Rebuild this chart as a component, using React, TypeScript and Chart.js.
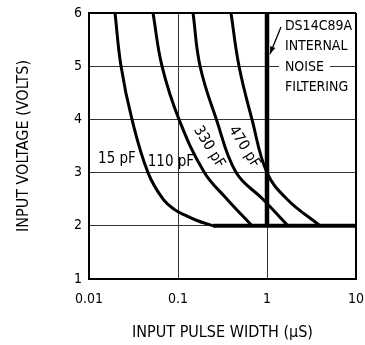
import React, { useEffect, useRef } from 'react';
import { Chart, registerables } from 'chart.js';

Chart.register(...registerables);

const FONT = '"Liberation Sans Narrow", "DejaVu Sans Condensed", "Liberation Sans", sans-serif';

const xTickValues = [0.01, 0.1, 1, 10];
const xTickLabels = ['0.01', '0.1', '1', '10'];
const yMin = 1;
const yMax = 6;

// Input pulse width (µs) vs input voltage (V) for each capacitance
const pf15X = [0.0196, 0.0229, 0.0304, 0.046, 0.068, 0.0925, 0.12, 0.163, 0.247];
const pf15Y = [6, 5, 4, 3, 2.5, 2.3, 2.2, 2.1, 2.0];
const pf110X = [0.0524, 0.0661, 0.1026, 0.198, 0.356, 0.678];
const pf110Y = [6, 5, 4, 3, 2.5, 2.0];
const pf330X = [0.1476, 0.177, 0.27, 0.45, 0.9, 1.72];
const pf330Y = [6, 5, 4, 3, 2.5, 2.0];
const pf470X = [0.394, 0.485, 0.678, 1.0, 1.68, 3.94];
const pf470Y = [6, 5, 4, 3, 2.5, 2.0];

// DS14C89A internal noise filtering boundary
const filterX = [1, 1];
const filterY = [6, 2];
const floorX = [0.247, 10];
const floorY = [2, 2];

const curveLabels = ['15 pF', '110 pF', '330 pF', '470 pF'];
const noteLines = ['DS14C89A', 'INTERNAL', 'NOISE', 'FILTERING'];

const toPts = (xs: number[], ys: number[]) => xs.map((x, i) => ({ x, y: ys[i] }));

const annotPlugin = {
  id: 'annot',
  afterDatasetsDraw(chart: any) {
    const { ctx, scales, chartArea } = chart;
    const sx = scales.x;
    const sy = scales.y;
    ctx.save();
    ctx.fillStyle = '#000';
    ctx.strokeStyle = '#000';
    ctx.font = `15px ${FONT}`;
    ctx.textAlign = 'center';
    ctx.textBaseline = 'middle';
    const anchors = [
      { x: 0.0206, y: 3.26, rot: 0 },
      { x: 0.0833, y: 3.2, rot: 0 },
      { x: 0.223, y: 3.48, rot: 58 },
      { x: 0.552, y: 3.48, rot: 58 },
    ];
    curveLabels.forEach((t, i) => {
      const a = anchors[i];
      ctx.save();
      ctx.translate(sx.getPixelForValue(a.x), sy.getPixelForValue(a.y));
      ctx.rotate((a.rot * Math.PI) / 180);
      ctx.fillText(t, 0, 0);
      ctx.restore();
    });

    // note text
    const nx = sx.getPixelForValue(1.59);
    const ny = sy.getPixelForValue(5.756);
    ctx.font = `14px ${FONT}`;
    ctx.textAlign = 'left';
    noteLines.forEach((t, i) => {
      const yy = ny + i * 20.5;
      const w = ctx.measureText(t).width;
      const rx = nx - 6;
      const rw = Math.min(w + 12, chartArea.right - 1.5 - rx);
      ctx.fillStyle = '#fff';
      ctx.fillRect(rx, yy - 8, rw, 16);
      ctx.fillStyle = '#000';
      ctx.fillText(t, nx, yy);
    });

    // arrow
    const x0 = sx.getPixelForValue(1.436);
    const y0 = sy.getPixelForValue(5.737);
    const x1 = sx.getPixelForValue(1.08);
    const y1 = sy.getPixelForValue(5.23);
    ctx.lineWidth = 1.3;
    ctx.beginPath();
    ctx.moveTo(x0, y0);
    ctx.lineTo(x1, y1);
    ctx.stroke();
    const ang = Math.atan2(y1 - y0, x1 - x0);
    const L = 8;
    const W = 0.35;
    ctx.beginPath();
    ctx.moveTo(x1, y1);
    ctx.lineTo(x1 - L * Math.cos(ang - W), y1 - L * Math.sin(ang - W));
    ctx.lineTo(x1 - L * Math.cos(ang + W), y1 - L * Math.sin(ang + W));
    ctx.closePath();
    ctx.fill();
    ctx.restore();
  },
};

export default function App() {
  const ref = useRef<HTMLCanvasElement>(null);
  useEffect(() => {
    if (!ref.current) return;
    const curve = (xs: number[], ys: number[], w: number, tension: number) => ({
      data: toPts(xs, ys),
      borderColor: '#000',
      borderWidth: w,
      pointRadius: 0,
      tension,
      fill: false,
    });
    const chart = new Chart(ref.current, {
      type: 'line',
      data: {
        datasets: [
          curve(pf15X, pf15Y, 3, 0.4),
          curve(pf110X, pf110Y, 3, 0.4),
          curve(pf330X, pf330Y, 3, 0.4),
          curve(pf470X, pf470Y, 3, 0.4),
          curve(filterX, filterY, 4.5, 0),
          curve(floorX, floorY, 4, 0),
        ],
      },
      options: {
        responsive: false,
        animation: false,
        devicePixelRatio: 1,
        layout: { padding: { left: 0, right: 9, top: 13, bottom: 0 } },
        plugins: { legend: { display: false }, tooltip: { enabled: false } },
        scales: {
          x: {
            type: 'logarithmic',
            min: 0.01,
            max: 10,
            afterBuildTicks: (s: any) => {
              s.ticks = xTickValues.map((v) => ({ value: v }));
            },
            afterFit: (s: any) => {
              s.height = 66;
              s.paddingLeft = 0;
              s.paddingRight = 0;
            },
            ticks: {
              autoSkip: false,
              maxRotation: 0,
              padding: 12,
              color: '#000',
              font: { family: FONT, size: 14 },
              callback: (_v: any, i: number) => xTickLabels[i],
            },
            grid: {
              drawTicks: false,
              color: (c: any) => (c.tick && c.tick.value === 10 ? '#000' : '#333'),
              lineWidth: (c: any) => (c.tick && c.tick.value === 10 ? 2 : 1),
            },
            border: { color: '#000', width: 2 },
            title: {
              display: true,
              text: 'INPUT PULSE WIDTH (µS)',
              color: '#000',
              font: { family: FONT, size: 16 },
              padding: { top: 0, bottom: 3 },
            },
          },
          y: {
            type: 'linear',
            min: yMin,
            max: yMax,
            afterFit: (s: any) => {
              s.width = 89;
              s.paddingTop = 0;
              s.paddingBottom = 0;
            },
            ticks: {
              stepSize: 1,
              padding: 7,
              color: '#000',
              font: { family: FONT, size: 14 },
            },
            grid: {
              drawTicks: false,
              color: (c: any) => (c.tick && c.tick.value === yMax ? '#000' : '#333'),
              lineWidth: (c: any) => (c.tick && c.tick.value === yMax ? 2 : 1),
            },
            border: { color: '#000', width: 2 },
            title: {
              display: true,
              text: 'INPUT VOLTAGE (VOLTS)',
              color: '#000',
              font: { family: FONT, size: 16 },
              padding: { top: 14, bottom: 0 },
            },
          },
        },
      },
      plugins: [annotPlugin],
    } as any);
    return () => chart.destroy();
  }, []);
  return (
    <div style={{ position: 'fixed', left: 0, top: 0, width: 365, height: 345, background: '#fff' }}>
      <canvas ref={ref} width={365} height={345} style={{ display: 'block' }} />
    </div>
  );
}
